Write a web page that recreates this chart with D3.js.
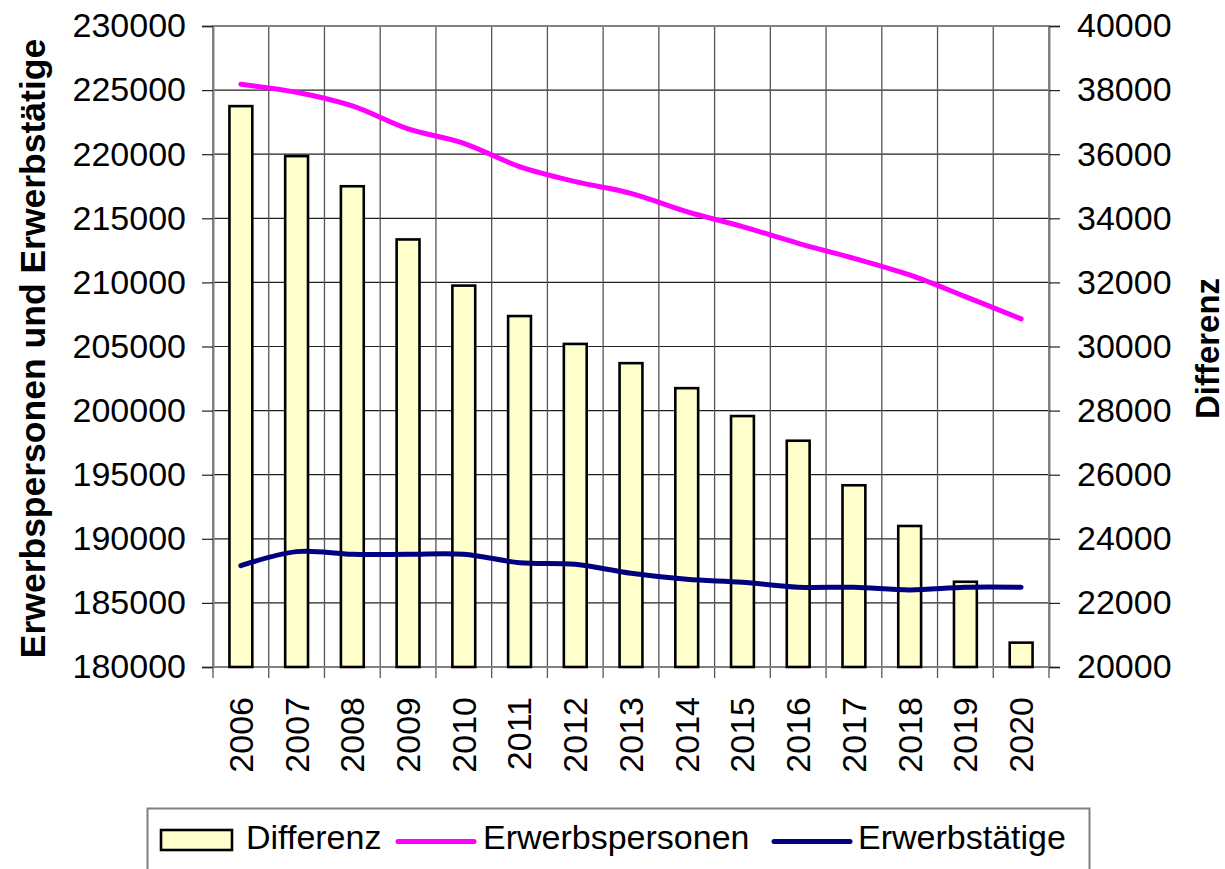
<!DOCTYPE html>
<html>
<head>
<meta charset="utf-8">
<script src="https://cdn.jsdelivr.net/npm/d3@7"></script>
<style>
  body { margin: 0; background: #fff; }
  svg { display: block; font-family: "Liberation Sans", Arial, sans-serif; }
</style>
</head>
<body>
<svg id="chart" width="1225" height="869"></svg>
<script>
const years = ["2006","2007","2008","2009","2010","2011","2012","2013","2014","2015","2016","2017","2018","2019","2020"];
const differenz = [37500, 35940, 35000, 33340, 31900, 30950, 30080, 29480, 28700, 27830, 27060, 25670, 24400, 22660, 20760];
const erwerbspersonen = [225450, 224830, 223760, 221970, 220850, 219030, 217860, 216950, 215520, 214350, 213050, 211880, 210580, 208890, 207150];
const erwerbstaetige = [187900, 189000, 188790, 188790, 188790, 188140, 188010, 187310, 186840, 186610, 186220, 186220, 186010, 186220, 186220];
const leftTicks = [180000,185000,190000,195000,200000,205000,210000,215000,220000,225000,230000];
const rightTicks = [20000,22000,24000,26000,28000,30000,32000,34000,36000,38000,40000];
const seriesNames = ["Differenz", "Erwerbspersonen", "Erwerbstätige"];

const svg = d3.select("#chart");
const L = 213, R = 1049, T = 26, B = 667;
const fs = 34;

const x = d3.scaleBand().domain(years).range([L, R]).padding(0);
const yL = d3.scaleLinear().domain([180000, 230000]).range([B, T]);
const yR = d3.scaleLinear().domain([20000, 40000]).range([B, T]);

// horizontal gridlines
svg.append("g").selectAll("line").data(leftTicks).join("line")
  .attr("x1", L).attr("x2", R)
  .attr("y1", d => yL(d)).attr("y2", d => yL(d))
  .attr("stroke", "#222").attr("stroke-width", 1.2);

// vertical gridlines at category boundaries
const bounds = years.map(y => x(y)).concat([R]);
svg.append("g").selectAll("line").data(bounds).join("line")
  .attr("x1", d => d).attr("x2", d => d)
  .attr("y1", T).attr("y2", B + 11)
  .attr("stroke", "#555").attr("stroke-width", 1.3);

// plot border
svg.append("rect").attr("x", L).attr("y", T).attr("width", R - L).attr("height", B - T)
  .attr("fill", "none").attr("stroke", "#808080").attr("stroke-width", 2);

// bars
const bw = x.bandwidth() * 0.41;
svg.append("g").selectAll("rect").data(years).join("rect")
  .attr("x", (d) => x(d) + x.bandwidth() / 2 - bw / 2)
  .attr("y", (d, i) => yR(differenz[i]))
  .attr("width", bw)
  .attr("height", (d, i) => B - yR(differenz[i]))
  .attr("fill", "#FFFFCC").attr("stroke", "#000").attr("stroke-width", 2.6);

// lines
const line = d3.line()
  .x((d, i) => x(years[i]) + x.bandwidth() / 2)
  .y(d => yL(d))
  .curve(d3.curveCatmullRom.alpha(0.5));
svg.append("path").datum(erwerbspersonen).attr("d", line)
  .attr("fill", "none").attr("stroke", "#FF00FF").attr("stroke-width", 5).attr("stroke-linecap", "round");
svg.append("path").datum(erwerbstaetige).attr("d", line)
  .attr("fill", "none").attr("stroke", "#000080").attr("stroke-width", 5).attr("stroke-linecap", "round");

// left axis
const axL = d3.axisLeft(yL).tickValues(leftTicks).tickSize(11).tickPadding(16).tickFormat(d3.format("d"));
const gL = svg.append("g").attr("transform", `translate(${L},0)`).call(axL);
gL.select(".domain").attr("stroke", "#808080").attr("stroke-width", 2);
gL.selectAll(".tick line").attr("stroke", "#222").attr("stroke-width", 1.2);
gL.selectAll("text").attr("font-size", fs).attr("fill", "#000").attr("font-family", "Liberation Sans, Arial, sans-serif");

// right axis
const axR = d3.axisRight(yR).tickValues(rightTicks).tickSize(11).tickPadding(17).tickFormat(d3.format("d"));
const gR = svg.append("g").attr("transform", `translate(${R},0)`).call(axR);
gR.select(".domain").attr("stroke", "#808080").attr("stroke-width", 2);
gR.selectAll(".tick line").attr("stroke", "#222").attr("stroke-width", 1.2);
gR.selectAll("text").attr("font-size", fs).attr("fill", "#000").attr("font-family", "Liberation Sans, Arial, sans-serif");

// x labels
svg.append("g").selectAll("text").data(years).join("text")
  .attr("transform", d => `translate(${x(d) + x.bandwidth() / 2},697) rotate(-90)`)
  .attr("text-anchor", "end").attr("dy", "0.35em")
  .attr("font-size", fs).text(d => d);

// axis titles
svg.append("text").attr("transform", `translate(33,${(T + B) / 2 + 2}) rotate(-90)`)
  .attr("text-anchor", "middle").attr("dy", "0.35em")
  .attr("font-size", 35.5).attr("font-weight", "bold").text("Erwerbspersonen und Erwerbstätige");
svg.append("text").attr("transform", `translate(1207,${(T + B) / 2 + 2}) rotate(-90)`)
  .attr("text-anchor", "middle").attr("dy", "0.35em")
  .attr("font-size", 33).attr("font-weight", "bold").text(seriesNames[0]);

// legend
const lg = svg.append("g");
lg.append("rect").attr("x", 147.5).attr("y", 808.5).attr("width", 942).attr("height", 80)
  .attr("fill", "#fff").attr("stroke", "#808080").attr("stroke-width", 2);
lg.append("rect").attr("x", 161).attr("y", 830).attr("width", 71).attr("height", 20)
  .attr("fill", "#FFFFCC").attr("stroke", "#000").attr("stroke-width", 2.6);
lg.append("text").attr("x", 246).attr("y", 849).attr("font-size", fs).text(seriesNames[0]);
lg.append("line").attr("x1", 398).attr("x2", 474).attr("y1", 841.5).attr("y2", 841.5)
  .attr("stroke", "#FF00FF").attr("stroke-width", 5).attr("stroke-linecap", "round");
lg.append("text").attr("x", 483).attr("y", 849).attr("font-size", fs).text(seriesNames[1]);
lg.append("line").attr("x1", 774).attr("x2", 850).attr("y1", 841.5).attr("y2", 841.5)
  .attr("stroke", "#000080").attr("stroke-width", 5).attr("stroke-linecap", "round");
lg.append("text").attr("x", 858).attr("y", 849).attr("font-size", fs).text(seriesNames[2]);
</script>
</body>
</html>
